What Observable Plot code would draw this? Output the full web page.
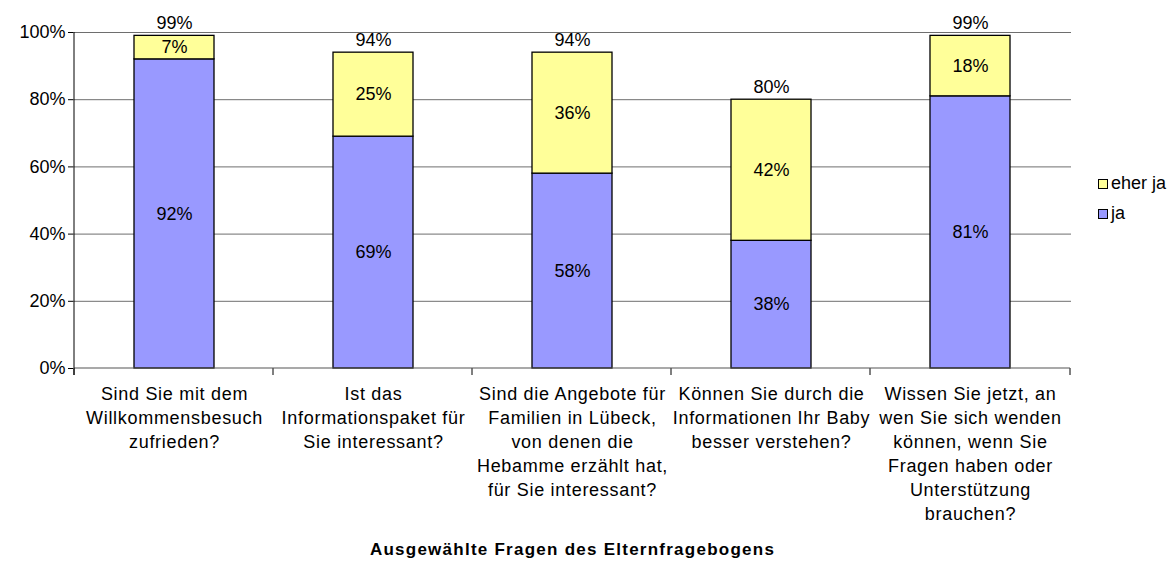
<!DOCTYPE html>
<html>
<head>
<meta charset="utf-8">
<script src="https://cdn.jsdelivr.net/npm/d3@7"></script>
<script src="https://cdn.jsdelivr.net/npm/@observablehq/plot@0.6"></script>
<style>
  body { margin: 0; background: #fff; font-family: "Liberation Sans", Arial, sans-serif; }
  #wrap { position: relative; width: 1176px; height: 566px; }
  #legend { position: absolute; left: 1098px; top: 168px; font-size: 18px; color: #000; line-height: 30px; }
  #legend .sw { display: inline-block; width: 8px; height: 8px; border: 1px solid #000; margin-right: 3px; vertical-align: 0px; }
  g[aria-label="x-axis tick label"] text { letter-spacing: 0.7px; }
  text.xtitle { letter-spacing: 1.25px; }
</style>
</head>
<body>
<div id="wrap">
  <div id="chart"></div>
  <div id="legend">
    <div><span class="sw" style="background:#FFFF99"></span>eher ja</div>
    <div><span class="sw" style="background:#9999FF"></span>ja</div>
  </div>
</div>
<script>
const categories = [
  "Sind Sie mit dem\nWillkommensbesuch\nzufrieden?",
  "Ist das\nInformationspaket für\nSie interessant?",
  "Sind die Angebote für\nFamilien in Lübeck,\nvon denen die\nHebamme erzählt hat,\nfür Sie interessant?",
  "Können Sie durch die\nInformationen Ihr Baby\nbesser verstehen?",
  "Wissen Sie jetzt, an\nwen Sie sich wenden\nkönnen, wenn Sie\nFragen haben oder\nUnterstützung\nbrauchen?"
];
const seriesNames = ["ja", "eher ja"];
const jaValues = [0.92, 0.69, 0.58, 0.38, 0.81];
const eherJaValues = [0.07, 0.25, 0.36, 0.42, 0.18];
const totals = [0.99, 0.94, 0.94, 0.80, 0.99];
const yTicks = [0, 0.2, 0.4, 0.6, 0.8, 1.0];
const xTitle = "Ausgewählte Fragen des Elternfragebogens";

const rows = [];
categories.forEach((c, i) => {
  rows.push({cat: c, series: seriesNames[0], value: jaValues[i]});
  rows.push({cat: c, series: seriesNames[1], value: eherJaValues[i]});
});
const totalRows = categories.map((c, i) => ({cat: c, value: totals[i]}));
const pct = d => Math.round(d * 100) + "%";

const bandTicks = (index, scales, values, dims) => {
  const x = scales.x, bw = x.bandwidth();
  const step = bw / 0.4;
  const y0 = scales.y(0);
  const g = d3.create("svg:g");
  const xs = categories.map(c => x(c) - 0.3 * step);
  xs.push(x(categories[categories.length - 1]) + bw + 0.3 * step);
  xs.forEach(px => {
    g.append("line").attr("x1", px).attr("x2", px).attr("y1", y0).attr("y2", y0 + 7)
      .attr("stroke", "#000").attr("stroke-width", 1);
  });
  g.append("line").attr("x1", xs[0]).attr("x2", xs[xs.length - 1]).attr("y1", y0).attr("y2", y0)
    .attr("stroke", "#555").attr("stroke-width", 1.2);
  g.append("line").attr("x1", xs[0]).attr("x2", xs[0]).attr("y1", scales.y(1)).attr("y2", y0 + 7)
    .attr("stroke", "#000").attr("stroke-width", 1);
  return g.node();
};

const chart = Plot.plot({
  width: 1176,
  height: 566,
  marginLeft: 73,
  marginRight: 105,
  marginTop: 32,
  marginBottom: 198,
  style: {fontFamily: "'Liberation Sans', Arial, sans-serif", fontSize: "18px", color: "#000", background: "#fff"},
  x: {domain: categories, paddingInner: 0.6, paddingOuter: 0.3},
  y: {domain: [0, 1]},
  color: {domain: seriesNames, range: ["#9999FF", "#FFFF99"]},
  marks: [
    Plot.ruleY(yTicks.slice(1), {stroke: "#6e6e6e", strokeWidth: 1}),
    Plot.barY(rows, Plot.stackY({x: "cat", y: "value", z: "series", fill: "series", stroke: "#000", strokeWidth: 1.3, order: seriesNames})),
    Plot.text(rows, Plot.stackY({x: "cat", y: "value", z: "series", text: d => pct(d.value), order: seriesNames, fontSize: 18, fill: "#000"})),
    Plot.text(totalRows, {x: "cat", y: "value", text: d => pct(d.value), lineAnchor: "bottom", dy: -7, fontSize: 18, fill: "#000"}),
    Plot.axisY({ticks: yTicks, tickFormat: d => Math.round(d * 100) + "%", tickSize: 5, tickPadding: 3, fontSize: 18, label: null, stroke: "#000"}),
    Plot.axisX({tickSize: 0, tickPadding: 14, fontSize: 18, lineHeight: 1.333, label: null}),
    bandTicks,
    Plot.text([xTitle], {frameAnchor: "bottom", dy: 186, text: d => d, fontWeight: "bold", fontSize: 17, fill: "#000"})
  ]
});
d3.select(chart).selectAll("text").filter(function() { return this.textContent === xTitle; }).classed("xtitle", true);
document.getElementById("chart").appendChild(chart);
</script>
</body>
</html>
